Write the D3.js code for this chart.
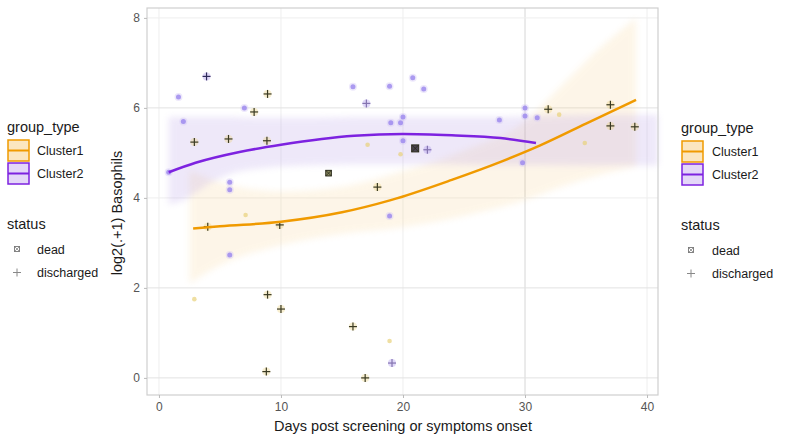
<!DOCTYPE html>
<html><head><meta charset="utf-8">
<script src="https://cdn.jsdelivr.net/npm/d3@7"></script>
<style>html,body{margin:0;padding:0;background:#fff;}svg{display:block;font-family:"Liberation Sans",Arial,sans-serif;}</style>
</head><body>
<svg id="chart" width="811" height="435"></svg>
<script>
// ---- data ----
const xTicks = [0, 10, 20, 30, 40];
const yTicks = [0, 2, 4, 6, 8];
const groups = ["Cluster1", "Cluster2"];
const statuses = ["dead", "discharged"];

// smooth fits
const fit1X = [2.8, 5, 10, 15, 19, 24, 28, 31.2, 35, 39.1];
const fit1Y = [3.32, 3.37, 3.47, 3.68, 3.95, 4.4, 4.8, 5.16, 5.65, 6.18];
const band1X = [2.5, 5, 10, 15, 20, 25, 30, 33, 36, 39.1];
const band1Lo = [2.1, 2.5, 2.95, 3.2, 3.35, 3.6, 3.95, 4.25, 4.5, 4.7];
const band1Hi = [4.6, 4.35, 4.15, 4.25, 4.6, 5.05, 5.7, 6.5, 7.3, 8.0];

const fit2X = [0.8, 3, 6.6, 10, 16, 20, 24, 28, 30.9];
const fit2Y = [4.57, 4.78, 5.02, 5.18, 5.38, 5.42, 5.39, 5.33, 5.22];
const band2X = [0.8, 2, 4, 6, 8, 12, 16, 20, 24, 28, 31, 36, 40.9];
const band2Lo = [3.85, 3.95, 4.3, 4.55, 4.65, 4.72, 4.75, 4.75, 4.75, 4.73, 4.73, 4.72, 4.72];
const band2Hi = [5.8, 5.8, 5.8, 5.8, 5.78, 5.78, 5.8, 5.8, 5.8, 5.8, 5.82, 5.85, 5.85];

// points
const c1DischX = [2.9, 5.7, 8.85, 8.9, 7.8, 4.0, 9.9, 17.9, 8.9, 10.0, 15.9, 8.8, 16.9, 31.9, 37, 37, 39];
const c1DischY = [5.24, 5.31, 5.27, 6.31, 5.91, 3.36, 3.4, 4.24, 1.85, 1.53, 1.14, 0.14, 0.0, 5.97, 6.07, 5.6, 5.58];
const c1FaintX = [7.1, 2.9, 18.9, 19.8, 17.1, 32.8, 34.9];
const c1FaintY = [3.62, 1.75, 0.82, 4.97, 5.18, 5.85, 5.22];
const c1DeadX = [13.9];
const c1DeadY = [4.55];
const c2DeadX = [21.0];
const c2DeadY = [5.1];
const c2DischX = [3.9, 17.0, 22.0, 19.1];
const c2DischY = [6.7, 6.1, 5.07, 0.33];
const c2DotX = [1.6, 2.0, 7.0, 5.8, 5.8, 5.8, 0.8, 15.9, 18.9, 20.8, 21.7, 19.0, 19.8, 20.0, 20.0, 18.9, 27.9, 30.0, 30.0, 31.0, 29.8];
const c2DotY = [6.24, 5.7, 6.0, 4.35, 4.18, 2.73, 4.57, 6.47, 6.48, 6.67, 6.42, 5.67, 5.67, 5.8, 5.27, 3.6, 5.73, 6.0, 5.82, 5.78, 4.78];

// ---- drawing ----
const svg = d3.select("#chart");
const P = {l: 147, r: 658, t: 8, b: 395};
const x = d3.scaleLinear().domain([-0.98, 40.9]).range([P.l, P.r]);
const y = d3.scaleLinear().domain([-0.38, 8.22]).range([P.b, P.t]);
const col1 = "#f09a00", col2 = "#7d22e0";

svg.append("rect").attr("x", P.l).attr("y", P.t).attr("width", P.r - P.l).attr("height", P.b - P.t).attr("fill", "#fff");

// grid
const grid = svg.append("g");
grid.selectAll(".gx").data(xTicks).join("line")
  .attr("x1", d => x(d)).attr("x2", d => x(d)).attr("y1", P.t).attr("y2", P.b)
  .attr("stroke", d => d === 30 ? "#d6d6d6" : "#eeeeee").attr("stroke-width", 1);
grid.selectAll(".gy").data(yTicks).join("line")
  .attr("y1", d => y(d)).attr("y2", d => y(d)).attr("x1", P.l).attr("x2", P.r)
  .attr("stroke", d => (d === 2 || d === 0 || d === 6) ? "#e2e2e2" : "#eeeeee").attr("stroke-width", 1);

// ribbons (soft edges)
const defs = svg.append("defs");
defs.append("filter").attr("id", "soft").attr("x", "-10%").attr("y", "-10%").attr("width", "120%").attr("height", "120%")
  .append("feGaussianBlur").attr("stdDeviation", 3);
function ribbon(xs, lo, hi) {
  return d3.area().curve(d3.curveMonotoneX)
    .x((d, i) => x(xs[i])).y0((d, i) => y(lo[i])).y1((d, i) => y(hi[i]))(xs);
}
svg.append("path").attr("d", ribbon(band1X, band1Lo, band1Hi)).attr("fill", "#f5c060").attr("opacity", 0.14).attr("filter", "url(#soft)");
svg.append("path").attr("d", ribbon(band2X, band2Lo, band2Hi)).attr("fill", "#b39ae6").attr("opacity", 0.22).attr("filter", "url(#soft)");

// points
const pts = svg.append("g");
function plus(g, cx, cy, s, color, w) {
  g.append("line").attr("x1", cx - s).attr("x2", cx + s).attr("y1", cy).attr("y2", cy).attr("stroke", color).attr("stroke-width", w);
  g.append("line").attr("x1", cx).attr("x2", cx).attr("y1", cy - s).attr("y2", cy + s).attr("stroke", color).attr("stroke-width", w);
}
c2DotX.forEach((v, i) => {
  pts.append("circle").attr("cx", x(v)).attr("cy", y(c2DotY[i])).attr("r", 4).attr("fill", "#d2c6f5").attr("opacity", 0.4);
  pts.append("circle").attr("cx", x(v)).attr("cy", y(c2DotY[i])).attr("r", 2.5).attr("fill", "#9a86ee").attr("opacity", 0.8);
});
c1FaintX.forEach((v, i) => {
  pts.append("circle").attr("cx", x(v)).attr("cy", y(c1FaintY[i])).attr("r", 2.3).attr("fill", "#e8d27a").attr("opacity", 0.7);
});
c1DischX.forEach((v, i) => {
  pts.append("circle").attr("cx", x(v)).attr("cy", y(c1DischY[i])).attr("r", 4).attr("fill", "#ecd27a").attr("opacity", 0.35);
  plus(pts, x(v), y(c1DischY[i]), 4, "#3a3a22", 1.2);
});
c2DischX.forEach((v, i) => {
  pts.append("circle").attr("cx", x(v)).attr("cy", y(c2DischY[i])).attr("r", 4).attr("fill", "#b9a6f0").attr("opacity", 0.45);
  plus(pts, x(v), y(c2DischY[i]), 4, i === 0 ? "#2e2a5a" : "#8474b0", 1.2);
});
function dead(cx, cy, s, fill) {
  pts.append("rect").attr("x", cx - s).attr("y", cy - s).attr("width", 2 * s).attr("height", 2 * s)
    .attr("fill", fill).attr("stroke", "#2a2a1a").attr("stroke-width", 1);
  pts.append("path").attr("d", `M${cx - s},${cy - s}L${cx + s},${cy + s}M${cx + s},${cy - s}L${cx - s},${cy + s}`)
    .attr("stroke", "#2a2a1a").attr("stroke-width", 0.8);
}
c1DeadX.forEach((v, i) => dead(x(v), y(c1DeadY[i]), 2.8, "#8a8a60"));
c2DeadX.forEach((v, i) => dead(x(v), y(c2DeadY[i]), 3.5, "#4a4450"));

// fit lines
const line = (xs, ys) => d3.line().curve(d3.curveMonotoneX).x((d, i) => x(xs[i])).y((d, i) => y(ys[i]))(xs);
svg.append("path").attr("d", line(fit2X, fit2Y)).attr("fill", "none").attr("stroke", col2).attr("stroke-width", 2.5);
svg.append("path").attr("d", line(fit1X, fit1Y)).attr("fill", "none").attr("stroke", col1).attr("stroke-width", 2.5);

// panel border
svg.append("rect").attr("x", P.l).attr("y", P.t).attr("width", P.r - P.l).attr("height", P.b - P.t)
  .attr("fill", "none").attr("stroke", "#cfcfcf").attr("stroke-width", 1.2);

// axes
const ax = svg.append("g").attr("transform", `translate(0,${P.b})`)
  .call(d3.axisBottom(x).tickValues(xTicks).tickSize(3).tickPadding(4));
ax.select(".domain").remove();
ax.selectAll("line").attr("stroke", "#bbb");
ax.selectAll("text").attr("fill", "#555").style("font-size", "12px").style("font-family", "Liberation Sans, Arial, sans-serif");
const ay = svg.append("g").attr("transform", `translate(${P.l},0)`)
  .call(d3.axisLeft(y).tickValues(yTicks).tickSize(3).tickPadding(4));
ay.select(".domain").remove();
ay.selectAll("line").attr("stroke", "#bbb");
ay.selectAll("text").attr("fill", "#555").style("font-size", "12px").style("font-family", "Liberation Sans, Arial, sans-serif");

svg.append("text").attr("x", 403).attr("y", 431).attr("text-anchor", "middle")
  .style("font-size", "14.5px").attr("fill", "#1a1a1a").text("Days post screening or symptoms onset");
svg.append("text").attr("transform", "translate(122,213) rotate(-90)").attr("text-anchor", "middle")
  .style("font-size", "14.5px").attr("fill", "#1a1a1a").text("log2(.+1) Basophils");

// legends
function legend(lx, ty, labx) {
  const g = svg.append("g");
  const keyFill = ["#fbe6c0", "#e4d7f8"], keyCol = [col1, col2];
  g.append("text").attr("x", lx).attr("y", ty + 5).style("font-size", "14.5px").attr("fill", "#1a1a1a").text("group_type");
  groups.forEach((gname, i) => {
    const ky = ty + 13 + i * 23;
    g.append("rect").attr("x", lx + 1).attr("y", ky).attr("width", 21).attr("height", 21)
      .attr("fill", keyFill[i]).attr("stroke", keyCol[i]).attr("stroke-width", 1.5);
    g.append("line").attr("x1", lx + 1).attr("x2", lx + 22).attr("y1", ky + 10.5).attr("y2", ky + 10.5)
      .attr("stroke", keyCol[i]).attr("stroke-width", 2);
    g.append("text").attr("x", labx).attr("y", ky + 15).style("font-size", "12.5px").attr("fill", "#1a1a1a").text(gname);
  });
  g.append("text").attr("x", lx).attr("y", ty + 102).style("font-size", "14.5px").attr("fill", "#1a1a1a").text("status");
  statuses.forEach((s, i) => {
    const cy = ty + 122 + i * 23.5, cx = lx + 10;
    if (s === "dead") {
      g.append("rect").attr("x", cx - 2.5).attr("y", cy - 2.5).attr("width", 5).attr("height", 5).attr("fill", "none").attr("stroke", "#777").attr("stroke-width", 0.9);
      g.append("path").attr("d", `M${cx - 2.5},${cy - 2.5}L${cx + 2.5},${cy + 2.5}M${cx + 2.5},${cy - 2.5}L${cx - 2.5},${cy + 2.5}`).attr("stroke", "#777").attr("stroke-width", 0.7);
    } else {
      g.append("line").attr("x1", cx - 4).attr("x2", cx + 4).attr("y1", cy).attr("y2", cy).attr("stroke", "#888").attr("stroke-width", 1);
      g.append("line").attr("x1", cx).attr("x2", cx).attr("y1", cy - 4).attr("y2", cy + 4).attr("stroke", "#888").attr("stroke-width", 1);
    }
    g.append("text").attr("x", labx).attr("y", cy + 4.5).style("font-size", "12.5px").attr("fill", "#1a1a1a").text(s);
  });
}
legend(7, 127, 37);
legend(681, 128, 712);
</script>
</body></html>
